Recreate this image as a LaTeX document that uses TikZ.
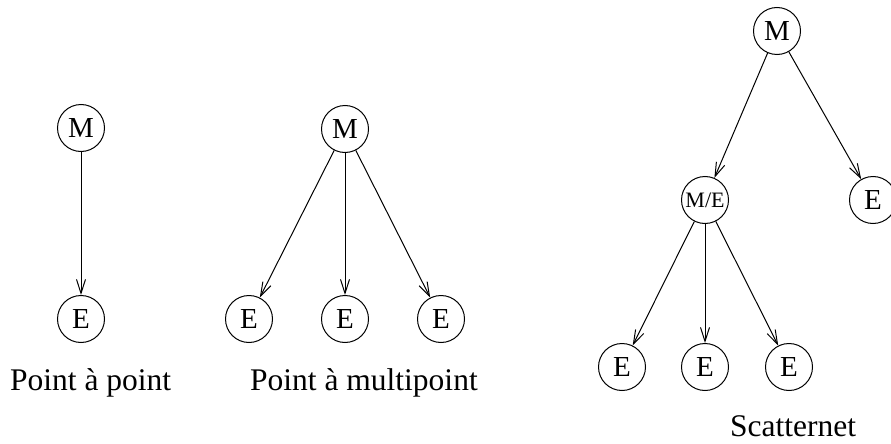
\documentclass[tikz,border=0pt]{standalone}
\usepackage{fontspec}
\setmainfont{Liberation Serif}
\usetikzlibrary{arrows.meta}
\begin{document}
\begin{tikzpicture}[x=1pt,y=-1pt,
  station/.style={draw,circle,line width=1pt,minimum size=47pt,inner sep=0pt,font=\fontsize{29}{29}\selectfont},
  small/.style={font=\fontsize{22}{22}\selectfont},
  link/.style={line width=1pt,-{Straight Barb[length=14pt,width=9pt,line width=1pt]}},
  caption/.style={anchor=base west,inner sep=0pt,font=\fontsize{31.5}{31.5}\selectfont}]
\useasboundingbox (0,0) rectangle (891,444);
% Point a point
\node[station] (m1) at (81,128) {M};
\node[station] (e1) at (81,319) {E};
\draw[link] (m1) -- (e1);
\node[caption] (t1) at (10,390) {Point à point};
% Point a multipoint
\node[station] (m2) at (345,129) {M};
\node[station] (e2a) at (249,319) {E};
\node[station] (e2b) at (345,319) {E};
\node[station] (e2c) at (441,319) {E};
\draw[link] (m2) -- (e2a);
\draw[link] (m2) -- (e2b);
\draw[link] (m2) -- (e2c);
\node[caption] (t2) at (250,390) {Point à multipoint};
% Scatternet
\node[station] (m3) at (777,31) {M};
\node[station,small] (me) at (705,200) {M/E};
\node[station] (e3r) at (873,200) {E};
\node[station] (e3a) at (622,367) {E};
\node[station] (e3b) at (705,367) {E};
\node[station] (e3c) at (789,367) {E};
\draw[link] (m3) -- (me);
\draw[link] (m3) -- (e3r);
\draw[link] (me) -- (e3a);
\draw[link] (me) -- (e3b);
\draw[link] (me) -- (e3c);
\node[caption] (t3) at (730,436) {Scatternet};
\end{tikzpicture}
\end{document}
